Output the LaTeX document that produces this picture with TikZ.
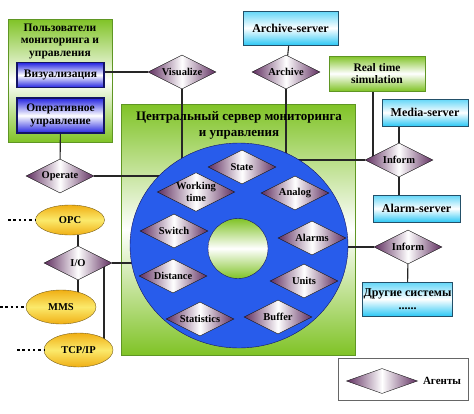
\documentclass[tikz,border=0pt]{standalone}
\usepackage{fontspec}
\setmainfont{Liberation Serif}
\usetikzlibrary{shapes.geometric}

\pgfdeclarelayer{back}
\pgfdeclarelayer{lines}
\pgfdeclarelayer{disk}
\pgfsetlayers{back,lines,disk,main}

\definecolor{grass}{RGB}{128,195,38}
\definecolor{grassline}{RGB}{95,150,35}
\definecolor{royal}{RGB}{40,92,235}
\definecolor{navy}{RGB}{20,20,100}
\definecolor{boxblue}{RGB}{35,35,225}
\definecolor{sky}{RGB}{45,200,245}
\definecolor{skyline}{RGB}{35,80,105}
\definecolor{plum}{RGB}{95,45,95}
\definecolor{gold}{RGB}{240,175,20}
\definecolor{goldline}{RGB}{120,95,25}

\begin{document}
\begin{tikzpicture}[x=1pt, y=-1pt,
    agent/.style={diamond, aspect=2, inner sep=0pt, minimum width=68, minimum height=34,
      draw=black!90, left color=plum, right color=plum, middle color=white,
      align=center, font=\fontsize{10.5}{11.5}\selectfont\bfseries},
    server/.style={draw=skyline, top color=sky!75, bottom color=sky, middle color=white,
      align=center, font=\fontsize{12}{13}\selectfont\bfseries},
    userbox/.style={draw=navy, line width=1.1pt, top color=boxblue, bottom color=boxblue,
      middle color=white, minimum width=87, align=center,
      font=\fontsize{11.5}{12.5}\selectfont\bfseries},
    greenbox/.style={draw=grassline, top color=grass, bottom color=grass, middle color=white},
    proto/.style={ellipse, draw=goldline, top color=gold, bottom color=gold,
      middle color=yellow!55!gold!60!white, font=\fontsize{10.5}{12}\selectfont\bfseries},
    link/.style={line width=1.1pt, black!85},
    dots/.style={line width=2.5pt, dash pattern=on 2.5pt off 2.8pt}]

  \useasboundingbox (0,0) rectangle (474,413);

  \begin{pgfonlayer}{back}
    \node[greenbox, minimum width=104, minimum height=123] (users) at (60,80.5) {};
    \node[greenbox, minimum width=234, minimum height=251] (center) at (238,229.5) {};
  \end{pgfonlayer}

  \node[align=center, font=\fontsize{11.5}{12.5}\selectfont\bfseries] (userstitle) at (60,41)
    {Пользователи\\мониторинга и\\управления};
  \node[align=center, font=\fontsize{13}{16}\selectfont\bfseries] (centertitle) at (239,125)
    {Центральный сервер мониторинга\\и управления};

  \begin{pgfonlayer}{disk}
    \node[ellipse, draw=navy, fill=royal, minimum width=218, minimum height=205] (disk) at (239,245.5) {};
    \node[circle, draw=navy, top color=grass, bottom color=grass, middle color=white,
      minimum size=60] (hole) at (238,248.5) {};
  \end{pgfonlayer}

  \foreach \nm/\x/\y/\txt in {state/242/167/State, work/196/192/{Working\\time},
      analog/295/193/Analog, switch/174/231/Switch, alarms/312/238/Alarms,
      distance/173/276/Distance, units/304/281/Units, stats/200/319/Statistics,
      buffer/278/317/Buffer}{
    \node[agent] (\nm) at (\x,\y) {\txt};
  }

  \node[userbox, minimum height=25] (viz) at (60.5,75) {Визуализация};
  \node[userbox, minimum height=35] (oper) at (60.5,115.5) {Оперативное\\управление};

  \node[agent] (vis) at (182,72) {Visualize};
  \node[agent] (arch) at (286,72) {Archive};
  \node[agent] (op) at (60,176) {Operate};
  \node[agent] (io) at (78,263) {I/O};
  \node[agent] (inf1) at (399,160) {Inform};
  \node[agent] (inf2) at (408,247) {Inform};

  \node[server, minimum width=95, minimum height=34] (archive) at (290.5,28) {Archive-server};
  \node[server, minimum width=86, minimum height=27] (media) at (425,112.5) {Media-server};
  \node[server, minimum width=87, minimum height=27] (alarm) at (416.5,208.5) {Alarm-server};
  \node[server, minimum width=87, minimum height=34, inner sep=1pt] (other) at (407.5,299)
    {Другие системы\\......};
  \node[greenbox, minimum width=96, minimum height=35, align=center,
    font=\fontsize{11.5}{12.5}\selectfont\bfseries] (realtime) at (377,73.5) {Real time\\simulation};

  \node[proto, minimum width=69, minimum height=30] (opc) at (70,220) {OPC};
  \node[proto, minimum width=70, minimum height=34] (mms) at (61,307) {MMS};
  \node[proto, minimum width=69, minimum height=34] (tcp) at (78.5,350) {TCP/IP};

  \coordinate (opcend) at (8,220);
  \coordinate (mmsend) at (0,307);
  \coordinate (tcpend) at (17,350);

  \begin{pgfonlayer}{lines}
    \draw[link] (viz.east |- vis.west) -- (vis.west);
    \draw[link] (vis.south) -- (vis.south |- disk.center);
    \draw[link] (oper) -- (op);
    \draw[link] (op.east) -- (op.east -| disk.center);
    \draw[link] (archive) -- (arch);
    \draw[link] (arch.south) -- (arch.south |- disk.center);
    \draw[link] (inf1.north) -- (inf1.north |- media.south);
    \draw[link] (inf1.south) -- (inf1.south |- alarm.north);
    \draw[link] (inf1.west) -- (inf1.west -| disk.center);
    \draw[link] ([xshift=-4pt]realtime.south) -- ([xshift=-4pt]realtime.south |- inf1.center);
    \draw[link] (inf2.west) -- (inf2.west -| disk.center);
    \draw[link] (inf2) -- (other);
    \draw[link] (io.north) -- (io.north |- opc.south);
    \draw[link] (io.south) -- (io.south |- mms.center);
    \draw[link] ([xshift=26pt]io.center) -- ([xshift=26pt]io.center |- tcp.center);
    \draw[link] (io.east) -- (io.east -| disk.center);
  \end{pgfonlayer}

  \draw[dots] (opcend) -- (opc.west);
  \draw[dots] (mmsend) -- (mms.west);
  \draw[dots] (tcpend) -- (tcp.west);

  \node[draw=black!60, fill=white, minimum width=130, minimum height=42] (legend) at (403,379) {};
  \node[agent, minimum width=71, minimum height=25] (legendagent) at (382,381) {};
  \node[font=\fontsize{11}{12}\selectfont\bfseries] (legendtext) at (442,381) {Агенты};
\end{tikzpicture}
\end{document}
